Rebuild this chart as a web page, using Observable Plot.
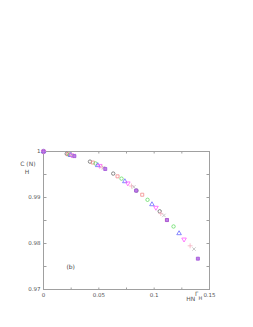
<!DOCTYPE html>
<html><head><meta charset="utf-8">
<script src="https://cdn.jsdelivr.net/npm/d3@7"></script>
<script src="https://cdn.jsdelivr.net/npm/@observablehq/plot@0.6"></script>
<style>html,body{margin:0;padding:0;background:#fff;}</style>
</head><body><div id="chart"></div>
<script>
// Series data: x = Γ_H^HN, y = C_H(N)
const seriesNames = ["s1", "s2", "s3", "s4", "s5", "s6", "s7", "s8"];
const x1 = [0, 0.021, 0.042, 0.063, 0.084, 0.105];
const y1 = [1, 0.9995, 0.9978, 0.9952, 0.9915, 0.9870];
const x2 = [0, 0.0223, 0.0446, 0.0669, 0.0892, 0.1115];
const y2 = [1, 0.9994, 0.9976, 0.9946, 0.9906, 0.9851];
const x3 = [0, 0.0235, 0.047, 0.0705, 0.094, 0.1175];
const y3 = [1, 0.9993, 0.9974, 0.9941, 0.9895, 0.9837];
const x4 = [0, 0.0245, 0.049, 0.0735, 0.098, 0.1225];
const y4 = [1, 0.9992, 0.9970, 0.9935, 0.9885, 0.9822];
const x5 = [0, 0.0254, 0.0508, 0.0762, 0.1016, 0.127];
const y5 = [1, 0.9992, 0.9969, 0.9931, 0.9878, 0.9809];
const x6 = [0, 0.0265, 0.053, 0.0795, 0.106, 0.1325];
const y6 = [1, 0.9991, 0.9966, 0.9925, 0.9865, 0.9795];
const x7 = [0, 0.0272, 0.0544, 0.0816, 0.1088, 0.136];
const y7 = [1, 0.9991, 0.9965, 0.9923, 0.9861, 0.9788];
const x8 = [0, 0.0279, 0.0558, 0.0837, 0.1116, 0.1395];
const y8 = [1, 0.9990, 0.9962, 0.9915, 0.9851, 0.9767];

const xLabelTicks = [0, 0.05, 0.1, 0.15];
const xAllTicks = [0, 0.025, 0.05, 0.075, 0.1, 0.125, 0.15];
const yLabelTicks = [0.97, 0.98, 0.99, 1];
const yAllTicks = [0.97, 0.975, 0.98, 0.985, 0.99, 0.995, 1];

const xs = [x1, x2, x3, x4, x5, x6, x7, x8];
const ys = [y1, y2, y3, y4, y5, y6, y7, y8];

// styles (not data)
const styles = [
  {symbol: "circle", stroke: "#6a6a6a", fill: "none", rotate: 0},
  {symbol: "square", stroke: "#f28a8a", fill: "none", rotate: 0},
  {symbol: "circle", stroke: "#66dd66", fill: "none", rotate: 0},
  {symbol: "triangle", stroke: "#6a6aff", fill: "none", rotate: 0},
  {symbol: "triangle", stroke: "#ff5cff", fill: "none", rotate: 180},
  {symbol: "plus", stroke: "#f4b0c0", fill: "none", rotate: 0},
  {symbol: "times", stroke: "#bbbbbb", fill: "none", rotate: 0},
  {symbol: "square", stroke: "#a050d8", fill: "#c080e8", rotate: 0}
];

const dotMarks = seriesNames.map((name, i) => {
  const rows = xs[i].map((x, j) => ({series: name, x, y: ys[i][j]}));
  const s = styles[i];
  return Plot.dot(rows, {x: "x", y: "y", symbol: () => s.symbol, r: 1.7,
    stroke: s.stroke, fill: s.fill, strokeWidth: 0.8, rotate: s.rotate});
});

const gridStroke = "#a0a0a0";
const chart = Plot.plot({
  width: 253, height: 327,
  marginLeft: 43, marginRight: 44, marginTop: 151, marginBottom: 38,
  style: {fontFamily: "DejaVu Sans", fontSize: "5.5px", color: "#555", background: "#fff"},
  x: {domain: [0, 0.15]},
  y: {domain: [0.97, 1]},
  symbol: {type: "identity"},
  marks: [
    Plot.frame({stroke: gridStroke}),
    // inward ticks, all four sides
    Plot.axisX(xAllTicks, {anchor: "top", frameAnchor: "bottom", tickSize: 2.5, tickFormat: () => "", label: null, stroke: gridStroke}),
    Plot.axisX(xAllTicks, {anchor: "bottom", frameAnchor: "top", tickSize: 2.5, tickFormat: () => "", label: null, stroke: gridStroke}),
    Plot.axisY(yAllTicks, {anchor: "right", frameAnchor: "left", tickSize: 2.5, tickFormat: () => "", label: null, stroke: gridStroke}),
    Plot.axisY(yAllTicks, {anchor: "left", frameAnchor: "right", tickSize: 2.5, tickFormat: () => "", label: null, stroke: gridStroke}),
    // tick labels
    Plot.axisX(xLabelTicks, {anchor: "bottom", tickSize: 0, tickPadding: 4, tickFormat: d => String(d), label: null}),
    Plot.axisY(yLabelTicks, {anchor: "left", tickSize: 0, tickPadding: 3, tickFormat: d => String(d), label: null}),
    ...dotMarks,
    // annotations
    Plot.text(["(b)"], {x: () => 0.0246, y: () => 0.9749, text: d => d, fontSize: 6, fill: "#444"}),
    Plot.text(["C (N)"], {x: () => -0.0141, y: () => 0.99717, text: d => d, fontSize: 6, fill: "#555"}),
    Plot.text(["H"], {x: () => -0.0148, y: () => 0.99543, text: d => d, fontSize: 6, fill: "#555"}),
    Plot.text(["Γ"], {x: () => 0.1384, y: () => 0.96891, text: d => d, fontSize: 6, fill: "#555"}),
    Plot.text(["H"], {x: () => 0.1418, y: () => 0.96815, text: d => d, fontSize: 5, fill: "#555"}),
    Plot.text(["HN"], {x: () => 0.1330, y: () => 0.96783, text: d => d, fontSize: 6, fill: "#555"})
  ]
});
document.getElementById("chart").appendChild(chart);
</script>
</body></html>
